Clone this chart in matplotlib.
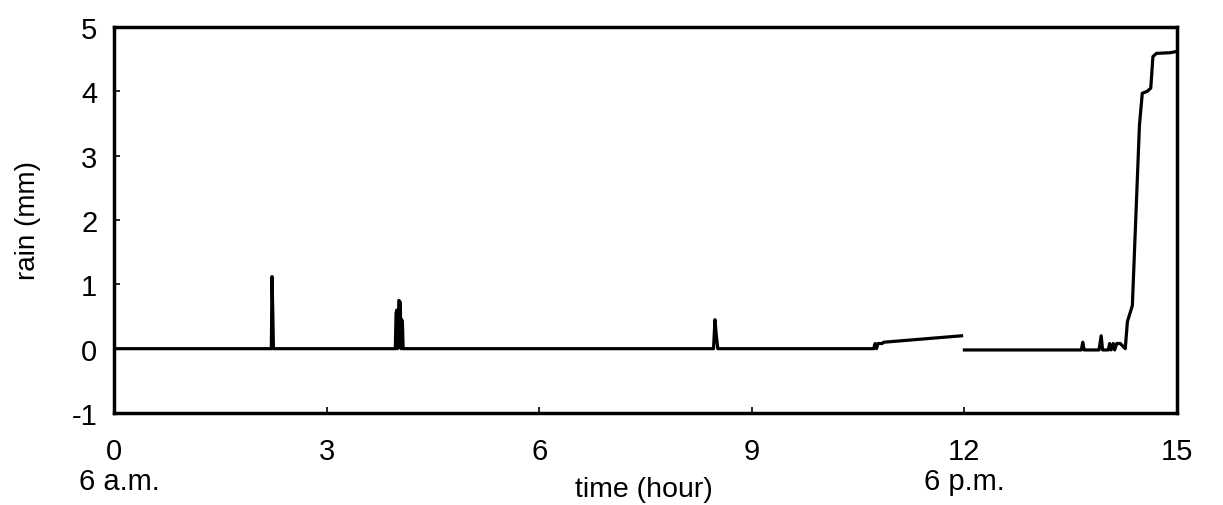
import numpy as np
import matplotlib.pyplot as plt

plt.rcParams['font.family'] = ['Liberation Sans', 'DejaVu Sans']
plt.rcParams['axes.unicode_minus'] = False

# Datos (tiempo en horas desde las 6 a.m., lluvia en mm)
t_morning = [0.0, 2.22, 2.23, 2.24, 2.25, 3.97, 3.98, 3.99, 4.0, 4.02, 4.04, 4.05,
             4.06, 4.07, 4.08, 8.46, 8.48, 8.5, 8.52, 10.72, 10.74, 10.76, 10.78,
             10.84, 10.86, 11.96]
rain_morning = [0.0, 0.0, 1.12, 0.6, 0.0, 0.0, 0.55, 0.6, 0.0, 0.75, 0.72, 0.0,
                0.45, 0.4, 0.0, 0.0, 0.45, 0.2, 0.0, 0.0, 0.08, 0.0, 0.08,
                0.08, 0.1, 0.2]

t_evening = [12.0, 13.65, 13.67, 13.69, 13.9, 13.93, 13.95, 14.03, 14.05, 14.07,
             14.1, 14.12, 14.15, 14.2, 14.27, 14.3, 14.37, 14.47, 14.51, 14.58,
             14.63, 14.66, 14.71, 14.9, 15.0]
rain_evening = [-0.02, -0.02, 0.1, -0.02, -0.02, 0.2, -0.02, -0.02, 0.08, -0.02,
                0.08, -0.02, 0.08, 0.08, 0.0, 0.42, 0.67, 3.47, 3.97, 4.0,
                4.05, 4.54, 4.59, 4.6, 4.62]

x_ticks = [0, 3, 6, 9, 12, 15]
y_ticks = [-1, 0, 1, 2, 3, 4, 5]

fig = plt.figure(figsize=(12.23, 5.06), dpi=100)
ax = fig.add_axes([114/1223, 1 - 414/506, (1177-114)/1223, (414-28)/506])

ax.plot(t_morning, rain_morning, color='black', lw=2.3)
ax.plot(t_evening, rain_evening, color='black', lw=2.3)

ax.set_xlim(0, 15)
ax.set_ylim(-1, 5)
ax.set_xticks(x_ticks)
ax.set_yticks(y_ticks)
ax.tick_params(direction='in', length=4, width=1.2, labelsize=21)
ax.tick_params(axis='x', pad=17)
ax.tick_params(axis='y', pad=12)
for s in ax.spines.values():
    s.set_linewidth(2.5)

ax.set_ylabel('rain (mm)', fontsize=20, labelpad=22)

trans = ax.get_xaxis_transform()
ax.text(0.08, -0.197, '6 a.m.', transform=trans, fontsize=21, ha='center', va='baseline')
ax.text(12, -0.197, '6 p.m.', transform=trans, fontsize=21, ha='center', va='baseline')
ax.text(7.48, -0.215, 'time (hour)', transform=trans, fontsize=20.5, ha='center', va='baseline')

fig.savefig('out.png', dpi=100)
